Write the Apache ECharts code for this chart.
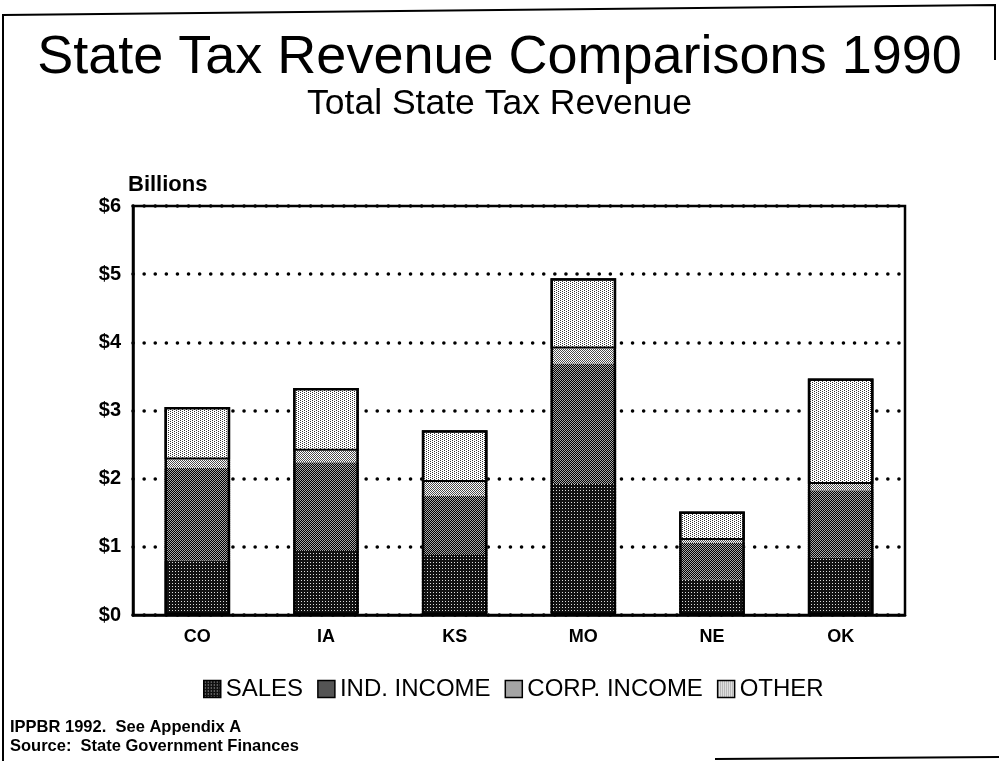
<!DOCTYPE html>
<html>
<head>
<meta charset="utf-8">
<title>State Tax Revenue Comparisons 1990</title>
<script src="https://cdn.jsdelivr.net/npm/echarts@6/dist/echarts.min.js"></script>
<style>
  html, body { margin: 0; padding: 0; background: #fff; }
  #chart { width: 999px; height: 761px; }
</style>
</head>
<body>
<div id="chart"></div>
<script>
// Total state tax revenue, 1990, in billions of dollars
const states = ['CO', 'IA', 'KS', 'MO', 'NE', 'OK'];
const sales = [0.80, 0.94, 0.88, 1.92, 0.52, 0.84];
const indIncome = [1.36, 1.30, 0.87, 1.77, 0.54, 0.99];
const corpIncome = [0.12, 0.17, 0.20, 0.22, 0.04, 0.09];
const other = [0.77, 0.92, 0.76, 1.03, 0.42, 1.55];
const yTickLabels = ['$0', '$1', '$2', '$3', '$4', '$5', '$6'];
const seriesNames = ['SALES', 'IND. INCOME', 'CORP. INCOME', 'OTHER'];

const FONT = '"Liberation Sans", Arial, Helvetica, sans-serif';

// Small pixel tiles used as halftone-style fills
function makeTile(size, base, dotColor, dots) {
  const c = document.createElement('canvas');
  c.width = size; c.height = size;
  const g = c.getContext('2d');
  g.fillStyle = base;
  g.fillRect(0, 0, size, size);
  g.fillStyle = dotColor;
  dots.forEach(([x, y]) => g.fillRect(x, y, 1, 1));
  return { image: c, repeat: 'repeat' };
}
const fillSales = makeTile(3, '#111111', '#dddddd', [[1, 1]]);
const fillInd = makeTile(2, '#000000', '#a8a8a8', [[0, 0], [1, 1]]);
const fillCorp = makeTile(2, '#ffffff', '#4a4a4a', [[0, 0], [1, 1]]);
const fillOther = makeTile(4, '#ffffff', '#333333', [[0, 0], [2, 1], [0, 2], [2, 3]]);

const totals = states.map((_, i) => +(sales[i] + indIncome[i] + corpIncome[i] + other[i]).toFixed(2));

const chart = echarts.init(document.getElementById('chart'), null, { renderer: 'canvas' });

const option = {
  backgroundColor: '#ffffff',
  animation: false,
  grid: {
    left: 133, right: 94, top: 206, bottom: 146,
    show: true, borderColor: '#000', borderWidth: 2.5, backgroundColor: 'transparent'
  },
  legend: {
    data: seriesNames,
    left: 198,
    top: 672,
    itemWidth: 17,
    itemHeight: 17,
    itemGap: 14,
    icon: 'rect',
    itemStyle: { borderColor: '#000', borderWidth: 1.5 },
    textStyle: { fontFamily: FONT, fontSize: 24, color: '#000' }
  },
  xAxis: {
    type: 'category',
    data: states,
    axisTick: { show: false },
    axisLine: { lineStyle: { color: '#000', width: 2.5 } },
    axisLabel: { color: '#000', fontFamily: FONT, fontWeight: 'bold', fontSize: 18, margin: 13 }
  },
  yAxis: {
    type: 'value',
    min: 0, max: 6, interval: 1,
    axisTick: { show: false },
    axisLine: { show: true, lineStyle: { color: '#000', width: 2.5 } },
    axisLabel: {
      color: '#000', fontFamily: FONT, fontWeight: 'bold', fontSize: 20, margin: 12,
      formatter: (v) => yTickLabels[Math.round(v)]
    },
    splitLine: {
      show: true,
      lineStyle: { color: '#000', width: 3.5, type: [0.1, 11], cap: 'round' }
    }
  },
  series: [
    { name: 'SALES', type: 'bar', stack: 'rev', barWidth: '51%', data: sales,
      itemStyle: { color: fillSales } },
    { name: 'IND. INCOME', type: 'bar', stack: 'rev', barWidth: '51%', data: indIncome,
      itemStyle: { color: fillInd } },
    { name: 'CORP. INCOME', type: 'bar', stack: 'rev', barWidth: '51%', data: corpIncome,
      itemStyle: { color: fillCorp } },
    { name: 'OTHER', type: 'bar', stack: 'rev', barWidth: '51%', data: other,
      itemStyle: { color: fillOther, borderColor: '#000', borderWidth: 2 } },
    // outline around each whole stacked column
    { name: 'total', type: 'bar', barWidth: '51%', barGap: '-100%', data: totals, z: 5, silent: true,
      itemStyle: { color: 'rgba(0,0,0,0)', borderColor: '#000', borderWidth: 2.5 } }
  ],
  graphic: [
    { type: 'text', left: 'center', top: 31, style: {
        text: 'State Tax Revenue Comparisons 1990', fill: '#000',
        font: 'normal 54px ' + FONT } },
    { type: 'text', left: 'center', top: 86, style: {
        text: 'Total State Tax Revenue', fill: '#000',
        font: 'normal 35.5px ' + FONT } },
    { type: 'text', left: 128, top: 174, style: {
        text: 'Billions', fill: '#000', font: 'bold 22px ' + FONT } },
    { type: 'text', left: 10, top: 719, style: {
        text: 'IPPBR 1992.  See Appendix A', fill: '#000', font: 'bold 16.5px ' + FONT } },
    { type: 'text', left: 10, top: 738, style: {
        text: 'Source:  State Government Finances', fill: '#000', font: 'bold 16.5px ' + FONT } },
    // page border
    { type: 'polyline', silent: true, shape: { points: [[3, 761], [3, 15], [995, 5], [995, 60]] },
      style: { stroke: '#000', lineWidth: 2, fill: null } },
    { type: 'line', silent: true, shape: { x1: 715, y1: 759, x2: 999, y2: 757 },
      style: { stroke: '#000', lineWidth: 2 } }
  ]
};

chart.setOption(option);
</script>
</body>
</html>
